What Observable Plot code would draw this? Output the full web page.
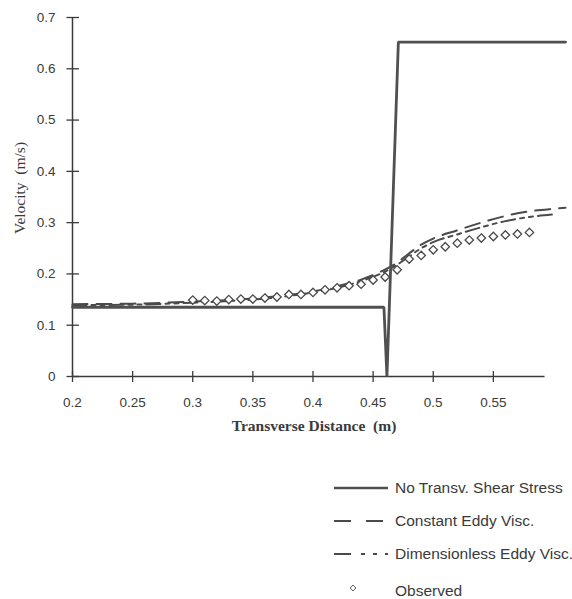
<!DOCTYPE html>
<html><head><meta charset="utf-8">
<script src="https://cdn.jsdelivr.net/npm/d3@7"></script>
<script src="https://cdn.jsdelivr.net/npm/@observablehq/plot@0.6"></script>
<style>
body{margin:0;background:#fff;width:572px;height:599px;overflow:hidden;position:relative;font-family:"Liberation Sans",Arial,sans-serif;}
#chart{position:absolute;left:0;top:0}
#legend{position:absolute;left:0;top:0}
</style></head><body>
<div id="chart"></div>
<svg id="legend" width="572" height="599"></svg>
<script>
// ---- data ----
const xTicks = [0.2, 0.25, 0.3, 0.35, 0.4, 0.45, 0.5, 0.55];
const yTicks = [0, 0.1, 0.2, 0.3, 0.4, 0.5, 0.6, 0.7];
const seriesNames = ["No Transv. Shear Stress", "Constant Eddy Visc.", "Dimensionless Eddy Visc.", "Observed"];

const stepX = [0.2, 0.459, 0.4615, 0.471, 0.61];
const stepV = [0.135, 0.135, 0, 0.652, 0.652];

const constX = [0.20, 0.25, 0.30, 0.33, 0.36, 0.38, 0.40, 0.42, 0.44, 0.455, 0.47, 0.48, 0.49, 0.50, 0.52, 0.54, 0.56, 0.58, 0.60, 0.61];
const constV = [0.141, 0.142, 0.146, 0.149, 0.154, 0.159, 0.166, 0.176, 0.189, 0.203, 0.222, 0.240, 0.257, 0.269, 0.285, 0.300, 0.313, 0.322, 0.327, 0.329];

const dimX = [0.20, 0.25, 0.30, 0.33, 0.36, 0.38, 0.40, 0.42, 0.44, 0.455, 0.47, 0.48, 0.49, 0.50, 0.52, 0.54, 0.56, 0.58, 0.60];
const dimV = [0.139, 0.140, 0.144, 0.147, 0.152, 0.157, 0.164, 0.173, 0.186, 0.199, 0.218, 0.234, 0.250, 0.262, 0.277, 0.291, 0.303, 0.311, 0.316];

const obsX = [0.30, 0.31, 0.32, 0.33, 0.34, 0.35, 0.36, 0.37, 0.38, 0.39, 0.40, 0.41, 0.42, 0.43, 0.44, 0.45, 0.46, 0.47, 0.48, 0.49, 0.50, 0.51, 0.52, 0.53, 0.54, 0.55, 0.56, 0.57, 0.58];
const obsV = [0.149, 0.148, 0.147, 0.150, 0.151, 0.151, 0.153, 0.155, 0.160, 0.160, 0.164, 0.169, 0.173, 0.177, 0.180, 0.188, 0.194, 0.208, 0.229, 0.236, 0.247, 0.253, 0.260, 0.266, 0.270, 0.273, 0.276, 0.278, 0.281];

const xAxisEnd = 0.593;

// ---- build tables ----
const zip = (xs, vs) => xs.map((x, i) => ({x, v: vs[i]}));
const step = zip(stepX, stepV);
const cons = zip(constX, constV);
const dimL = zip(dimX, dimV);
const obs = zip(obsX, obsV);

const ink = "#3a3a3a";
const lineInk = "#4a4a4a";

const plot = Plot.plot({
  width: 572,
  height: 445,
  marginLeft: 72,
  marginRight: 7,
  marginTop: 17,
  marginBottom: 69,
  style: {fontFamily: "'Liberation Sans', Arial, sans-serif", fontSize: "13px", color: ink, background: "transparent"},
  x: {domain: [0.2, 0.61], axis: null},
  y: {domain: [0, 0.7], axis: null},
  marks: [
    // axis lines
    Plot.ruleY([0], {x1: 0.2, x2: xAxisEnd, stroke: ink, strokeWidth: 1.5}),
    Plot.ruleX([0.2], {y1: 0, y2: 0.7, stroke: ink, strokeWidth: 1.5}),
    // crossing tick marks
    Plot.ruleX(xTicks, {x: d => d, y1: -0.0117, y2: 0.0097, stroke: ink, strokeWidth: 1.3}),
    Plot.ruleY(yTicks, {y: d => d, x1: 0.2 - 0.0046, x2: 0.2 + 0.0058, stroke: ink, strokeWidth: 1.3}),
    // tick labels
    Plot.axisX({ticks: xTicks, tickSize: 0, tickPadding: 21, tickFormat: d => String(d), label: null, fontSize: 13.5, fill: ink}),
    Plot.axisY({ticks: yTicks, tickSize: 0, tickPadding: 17, tickFormat: d => String(d), label: null, fontSize: 13.5, fill: ink}),
    // axis titles
    Plot.text(["Transverse Distance  (m)"], {frameAnchor: "bottom", textAnchor: "middle", dx: -5, dy: 50, lineAnchor: "middle", fontFamily: "'Liberation Serif', 'Times New Roman', serif", fontWeight: "bold", fontSize: 15.5, fill: ink}),
    Plot.text(["Velocity  (m/s)"], {frameAnchor: "left", textAnchor: "middle", rotate: -90, dx: -52, dy: -9, lineAnchor: "middle", fontFamily: "'Liberation Serif', 'Times New Roman', serif", fontSize: 15.5, fill: ink}),
    // series
    Plot.line(cons, {x: "x", y: "v", stroke: lineInk, strokeWidth: 2, strokeDasharray: "15,9", curve: "monotone-x"}),
    Plot.line(dimL, {x: "x", y: "v", stroke: lineInk, strokeWidth: 2, strokeDasharray: "14,5,4,5,4,5", curve: "monotone-x"}),
    Plot.line(step, {x: "x", y: "v", stroke: "#505050", strokeWidth: 2.8, strokeLinejoin: "miter"}),
    Plot.dot(obs, {x: "x", y: "v", symbol: "diamond2", r: 3.8, stroke: "#4a4a4a", strokeWidth: 1.3, fill: "white"})
  ]
});
document.getElementById("chart").appendChild(plot);

// ---- legend ----
const leg = d3.select("#legend");
const rowsY = [488, 521, 554, 591];
const sw = {x1: 334, x2: 388};
const dashes = [null, "17,15", "17,10,4,8,4,8", null];
seriesNames.forEach((name, i) => {
  const y = rowsY[i];
  if (i < 3) {
    leg.append("line").attr("x1", sw.x1).attr("x2", sw.x2).attr("y1", y).attr("y2", y)
      .attr("stroke", i === 0 ? "#505050" : lineInk).attr("stroke-width", i === 0 ? 2.4 : 2.2)
      .attr("stroke-dasharray", dashes[i]);
  } else {
    leg.append("path").attr("d", d3.symbol(d3.symbolDiamond2, 22)()).attr("transform", `translate(353,${y - 3})`)
      .attr("fill", "white").attr("stroke", "#555").attr("stroke-width", 1);
  }
  leg.append("text").attr("x", 395).attr("y", y).attr("dy", "0.35em")
    .attr("font-family", "'Liberation Sans', Arial, sans-serif").attr("font-size", 15.5)
    .attr("fill", ink).text(name);
});
</script>
</body></html>
